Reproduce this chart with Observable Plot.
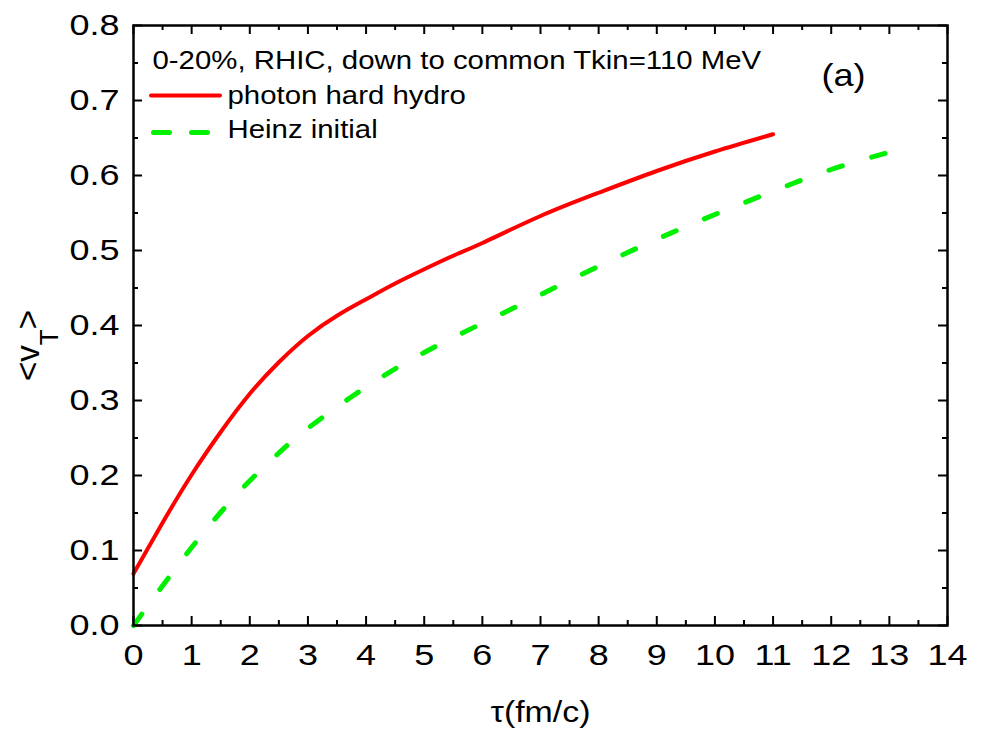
<!DOCTYPE html>
<html>
<head>
<meta charset="utf-8">
<script src="https://cdn.jsdelivr.net/npm/d3@7"></script>
<script src="https://cdn.jsdelivr.net/npm/@observablehq/plot@0.6"></script>
<style>
  html, body { margin: 0; padding: 0; background: #ffffff; }
  #chart { width: 981px; height: 736px; }
</style>
</head>
<body>
<div id="chart"></div>
<script>
// Mean transverse flow velocity <v_T> versus proper time tau (fm/c)
const tauHydro = [0, 0.5, 1, 1.5, 2, 2.5, 3, 3.5, 4, 4.5, 5, 5.5, 6, 7, 8, 9, 10, 11];
const vtHydro  = [0.069, 0.137, 0.201, 0.258, 0.309, 0.351, 0.386, 0.413, 0.435, 0.456, 0.475, 0.493, 0.510, 0.546, 0.577, 0.606, 0.632, 0.655];

const tauHeinz = [0, 0.5, 1, 1.5, 2, 2.5, 3, 4, 5, 6, 7, 8, 9, 10, 11, 12, 13];
const vtHeinz  = [0, 0.053, 0.104, 0.151, 0.193, 0.230, 0.263, 0.318, 0.364, 0.403, 0.441, 0.479, 0.515, 0.548, 0.579, 0.608, 0.631];

const seriesNames = ["photon hard hydro", "Heinz initial"];
const seriesColors = ["#ff0000", "#00f000"];
const noteText = "0-20%, RHIC, down to common Tkin=110 MeV";
const panelText = "(a)";
const xLabel = "\u03c4(fm/c)";
const yLabelMain = ["<v", ">"];
const yLabelSub = "T";

const xDomain = [0, 14];
const yDomain = [0, 0.8];
const xTicks = [0, 1, 2, 3, 4, 5, 6, 7, 8, 9, 10, 11, 12, 13, 14];
const xMinor = [0.5, 1.5, 2.5, 3.5, 4.5, 5.5, 6.5, 7.5, 8.5, 9.5, 10.5, 11.5, 12.5, 13.5];
const yTicks = [0, 0.1, 0.2, 0.3, 0.4, 0.5, 0.6, 0.7, 0.8];
const yMinor = [0.05, 0.15, 0.25, 0.35, 0.45, 0.55, 0.65, 0.75];

const hydro = tauHydro.map((t, i) => ({tau: t, vt: vtHydro[i]}));
const heinz = tauHeinz.map((t, i) => ({tau: t, vt: vtHeinz[i]}));

const W = 981, H = 736;
const mL = 133, mR = 34, mT = 25, mB = 111;
const plotW = W - mL - mR, plotH = H - mT - mB;
const font = "'Liberation Sans', Arial, Helvetica, sans-serif";
const major = 9, minor = 5;
const dashCurve = "14,30.6";
const dashKey = "16,22";
const yLabelKey = yLabelMain[0] + yLabelSub + yLabelMain[1];

const chart = Plot.plot({
  width: W,
  height: H,
  marginLeft: mL,
  marginRight: mR,
  marginTop: mT,
  marginBottom: mB,
  style: {fontFamily: font, background: "#ffffff", color: "#000000"},
  x: {domain: xDomain},
  y: {domain: yDomain},
  marks: [
    Plot.axisX({ticks: xTicks, tickSize: 0, tickPadding: 18, fontSize: 30, tickFormat: d3.format("d"), label: null, fill: "#000"}),
    Plot.axisY({ticks: yTicks, tickSize: 0, tickPadding: 14, fontSize: 30, tickFormat: d3.format(".1f"), label: null, fill: "#000"}),

    // inward ticks on all four sides
    Plot.tickX(xTicks, {x: d => d, insetTop: plotH - major, stroke: "#000", strokeWidth: 2}),
    Plot.tickX(xTicks, {x: d => d, insetBottom: plotH - major, stroke: "#000", strokeWidth: 2}),
    Plot.tickX(xMinor, {x: d => d, insetTop: plotH - minor, stroke: "#000", strokeWidth: 2}),
    Plot.tickX(xMinor, {x: d => d, insetBottom: plotH - minor, stroke: "#000", strokeWidth: 2}),
    Plot.tickY(yTicks, {y: d => d, insetRight: plotW - major, stroke: "#000", strokeWidth: 2}),
    Plot.tickY(yTicks, {y: d => d, insetLeft: plotW - major, stroke: "#000", strokeWidth: 2}),
    Plot.tickY(yMinor, {y: d => d, insetRight: plotW - minor, stroke: "#000", strokeWidth: 2}),
    Plot.tickY(yMinor, {y: d => d, insetLeft: plotW - minor, stroke: "#000", strokeWidth: 2}),

    // curves
    Plot.line(hydro, {x: "tau", y: "vt", stroke: seriesColors[0], strokeWidth: 4, curve: "natural", strokeLinecap: "round"}),
    Plot.line(heinz, {x: "tau", y: "vt", stroke: seriesColors[1], strokeWidth: 5, curve: "natural", strokeDasharray: dashCurve, strokeLinecap: "round"}),

    Plot.frame({stroke: "#000", strokeWidth: 2.5}),

    // legend samples, hung from the top of the frame
    Plot.ruleY([yDomain[1]], {y: d => d, dy: 70, insetLeft: 18, insetRight: plotW - 87, stroke: seriesColors[0], strokeWidth: 4, strokeLinecap: "round"}),
    Plot.ruleY([yDomain[1]], {y: d => d, dy: 107, insetLeft: 20.5, insetRight: plotW - 75, stroke: seriesColors[1], strokeWidth: 5, strokeDasharray: dashKey, strokeLinecap: "round"}),

    // annotations
    Plot.text([noteText], {frameAnchor: "top-left", textAnchor: "start", lineAnchor: "middle", dx: 19, dy: 35, fontSize: 26, fill: "#000"}),
    Plot.text([seriesNames[0]], {frameAnchor: "top-left", textAnchor: "start", lineAnchor: "middle", dx: 94, dy: 70, fontSize: 26, fill: "#000"}),
    Plot.text([seriesNames[1]], {frameAnchor: "top-left", textAnchor: "start", lineAnchor: "middle", dx: 94, dy: 104, fontSize: 26, fill: "#000"}),
    Plot.text([panelText], {frameAnchor: "top-right", textAnchor: "middle", lineAnchor: "middle", dx: -104, dy: 50, fontSize: 32, fill: "#000"}),
    Plot.text([xLabel], {frameAnchor: "bottom", textAnchor: "middle", lineAnchor: "middle", dy: 87, fontSize: 30, fill: "#000"}),
    Plot.text([yLabelKey], {frameAnchor: "left", textAnchor: "middle", lineAnchor: "middle", rotate: -90, dx: -105, dy: 20, fontSize: 33, fill: "#000"})
  ]
});

document.getElementById("chart").appendChild(chart);

// typography: the lettering runs wide
const svg = d3.select(chart);
function widen(sel, sx) {
  sel.each(function() {
    const t = this.getAttribute("transform") || "";
    this.setAttribute("transform", t + ` scale(${sx},1)`);
  });
}
widen(svg.selectAll("g[aria-label='x-axis tick label'] text, g[aria-label='y-axis tick label'] text"), 1.2);
const wideTexts = new Set([noteText, seriesNames[0], seriesNames[1], panelText, xLabel]);
widen(svg.selectAll("text").filter(function() { return wideTexts.has(this.textContent); }), 1.13);

// y-axis label with subscript T
svg.selectAll("text").filter(function() { return this.textContent === yLabelKey; }).each(function() {
  const t = d3.select(this);
  t.text(null);
  t.append("tspan").text(yLabelMain[0]);
  t.append("tspan").attr("font-size", 26).attr("dy", 19).text(yLabelSub);
  t.append("tspan").attr("font-size", 33).attr("dy", -19).text(yLabelMain[1]);
});
</script>
</body>
</html>
